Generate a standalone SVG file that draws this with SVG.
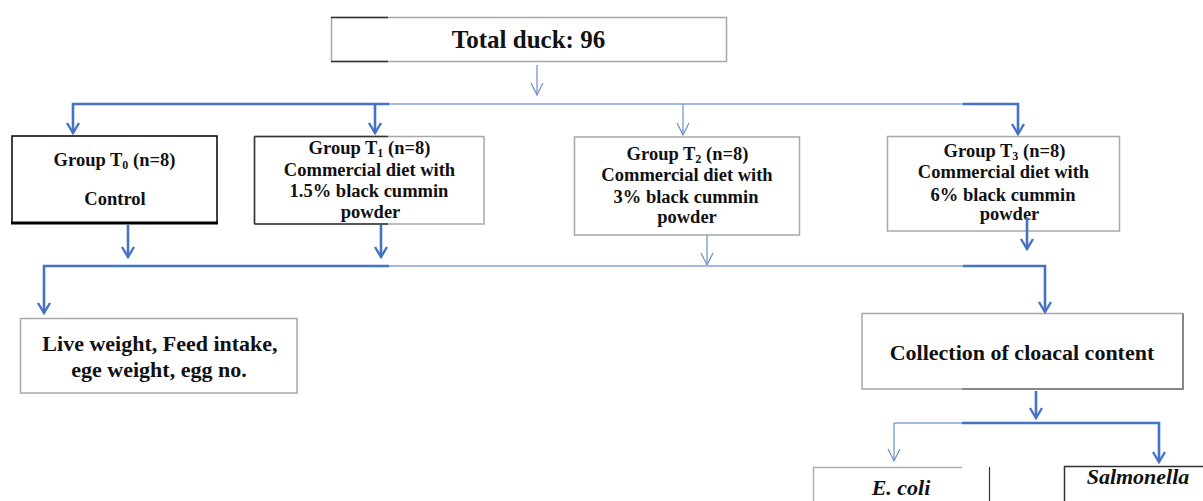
<svg xmlns="http://www.w3.org/2000/svg" width="1203" height="501" viewBox="0 0 1203 501">
<style>
.t{font-family:"Liberation Serif","Times New Roman",serif;font-weight:bold;fill:#111;text-anchor:middle}
.g{font-size:18.5px}
.big{font-size:22px}
.it{font-style:italic}
.sub{font-size:12px}
.bx{fill:#fff;stroke:#A8A8A8;stroke-width:1.5}
.dk{fill:none;stroke:#333;stroke-width:1.5}
.k{fill:none;stroke:#4472C4;stroke-width:2.6;marker-end:url(#ak)}
.h{fill:none;stroke:#A4B8E2;stroke-width:2}
.n{fill:none;stroke:#6B8DCB;stroke-width:1.2;marker-end:url(#an)}
</style>
<defs>
<marker id="ak" markerUnits="userSpaceOnUse" viewBox="-12 -8 14 16" refX="0" refY="0" markerWidth="14" markerHeight="16" orient="auto">
<path d="M-10,-6 L0,0 L-10,6" fill="none" stroke="#4472C4" stroke-width="2.4"/>
</marker>
<marker id="an" markerUnits="userSpaceOnUse" viewBox="-14 -8 16 16" refX="0" refY="0" markerWidth="16" markerHeight="16" orient="auto">
<path d="M-12,-6 L0,0 L-12,6" fill="none" stroke="#6B8DCB" stroke-width="1.2"/>
</marker>
</defs>
<rect width="1203" height="501" fill="#fff"/>

<g id="total">
<rect class="bx" x="331.5" y="17.5" width="395" height="44"/>
<path class="dk" d="M331,17.5 H388 M331,61.5 H388"/>
<text class="t" x="528.5" y="48" font-size="25">Total duck: 96</text>
</g>

<g id="t0">
<rect x="12" y="136" width="205" height="87" fill="#fff" stroke="#000" stroke-width="1.5"/>
<path d="M11,223 H218" stroke="#000" stroke-width="3"/>
<text class="t g" x="114.5" y="166">Group T<tspan class="sub" dy="3">0</tspan><tspan dy="-3"> (n=8)</tspan></text>
<text class="t g" x="115" y="205">Control</text>
</g>

<g id="t1">
<rect class="bx" x="254.5" y="136.5" width="229.5" height="87.5"/>
<path class="dk" d="M254.5,136.5 H388 M254.5,136.5 V224 M254.5,224 H388"/>
<text class="t g" x="369.5" y="154">Group T<tspan class="sub" dy="3">1</tspan><tspan dy="-3"> (n=8)</tspan></text>
<text class="t g" x="369.5" y="176">Commercial diet with</text>
<text class="t g" x="369" y="197">1.5% black cummin</text>
<text class="t g" x="370.5" y="218">powder</text>
</g>

<g id="t2">
<rect class="bx" x="574.5" y="137" width="225" height="98"/>
<text class="t g" x="687.5" y="160">Group T<tspan class="sub" dy="3">2</tspan><tspan dy="-3"> (n=8)</tspan></text>
<text class="t g" x="687" y="181">Commercial diet with</text>
<text class="t g" x="686" y="203">3% black cummin</text>
<text class="t g" x="687" y="223">powder</text>
</g>

<g id="t3">
<rect class="bx" x="887.5" y="136.5" width="232" height="94.5"/>
<text class="t g" x="1004.5" y="157">Group T<tspan class="sub" dy="3">3</tspan><tspan dy="-3"> (n=8)</tspan></text>
<text class="t g" x="1003.5" y="178">Commercial diet with</text>
<text class="t g" x="1003" y="201">6% black cummin</text>
<text class="t g" x="1009.5" y="220">powder</text>
</g>

<g id="measures">
<rect class="bx" x="20.5" y="318.5" width="276.5" height="74.5"/>
<text class="t big" x="160" y="351">Live weight, Feed intake,</text>
<text class="t big" x="159" y="377">ege weight, egg no.</text>
</g>

<g id="collection">
<rect class="bx" x="862" y="313.5" width="321" height="75.5"/>
<path d="M962,389 H1183 V313.5" fill="none" stroke="#777" stroke-width="1.5"/>
<text class="t big" x="1022" y="360">Collection of cloacal content</text>
</g>

<g id="ecoli">
<path d="M813.5,501 V467.5 H962" fill="none" stroke="#B0B0B0" stroke-width="1.5"/>
<path d="M989.5,467 V501" fill="none" stroke="#333" stroke-width="1.2"/>
<text class="t big it" x="901" y="495">E. coli</text>
</g>

<g id="salmonella">
<path d="M1064.5,501 V466.5 H1203" fill="none" stroke="#333" stroke-width="1.5"/>
<text class="t big it" x="1138" y="484">Salmonella</text>
</g>

<g id="connectors">
<path class="n" d="M537,65 V95"/>
<path class="h" d="M389,104 H963"/>
<path class="k" d="M389,104 H73 V133"/>
<path class="k" d="M375,104 V133"/>
<path class="n" d="M683,104 V135"/>
<path class="k" d="M963,104 H1018 V134"/>
<path class="k" d="M128,225 V257"/>
<path class="k" d="M381,225 V257"/>
<path class="n" d="M707,235 V265"/>
<path class="k" d="M1027,217 V249"/>
<path class="h" d="M389,266 H963"/>
<path class="k" d="M389,266 H44 V313"/>
<path class="k" d="M963,266 H1045 V312"/>
<path class="k" d="M1036,391 V418"/>
<path class="h" d="M962,423 H894"/>
<path class="n" d="M894,423 V461"/>
<path class="k" d="M962,423 H1159 V462"/>
</g>
</svg>
